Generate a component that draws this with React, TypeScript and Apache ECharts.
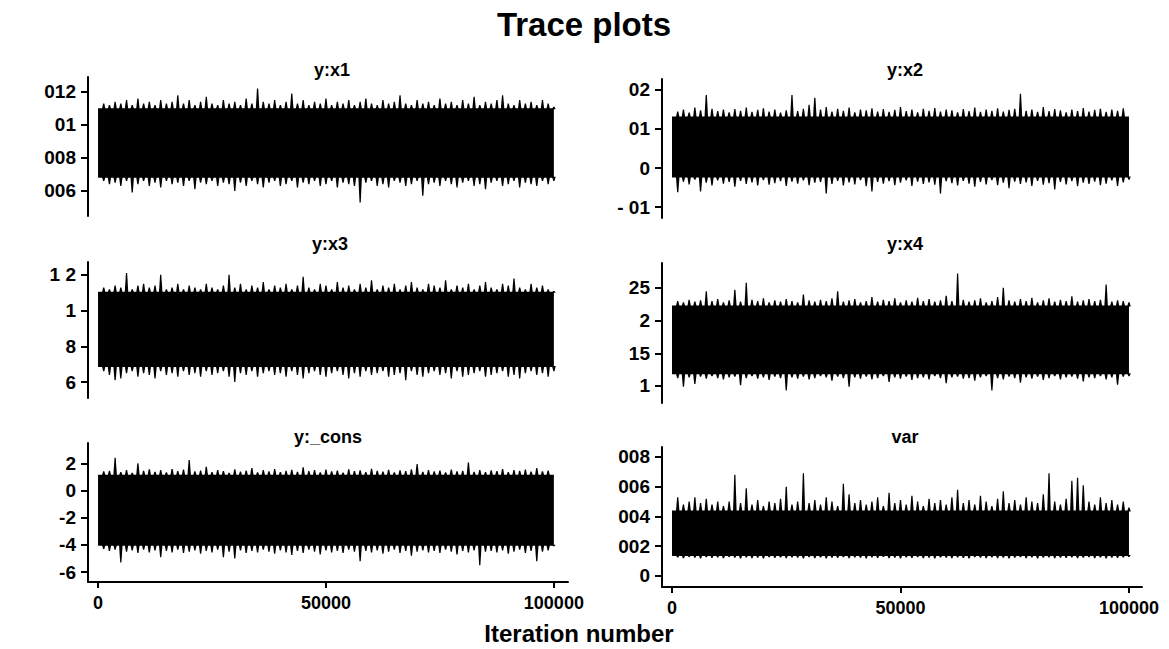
import React, { useEffect, useRef } from "react";
import * as echarts from "echarts";

// ---------- data ----------
const STEP = 1250; // iteration spacing of the sampled envelope points
const X_FIRST = 0;
const X_LAST = 100000;
const xTickValues = [0, 50000, 100000];
const xTickLabels = ["0", "50000", "100000"];
const xAxisTitle = "Iteration number";
const mainTitle = "Trace plots";

const panelTitles = ["y:x1", "y:x2", "y:x3", "y:x4", "y:_cons", "var"];

// y:x1
const x1Hi = [
  0.0108, 0.0113, 0.0112, 0.0114, 0.0113, 0.0115, 0.0112, 0.0116, 0.0113, 0.0114,
  0.0112, 0.0115, 0.0113, 0.0114, 0.0118, 0.0113, 0.0115, 0.0112, 0.0114, 0.0117,
  0.0113, 0.0112, 0.0115, 0.0113, 0.0114, 0.0112, 0.0116, 0.0113, 0.0122, 0.0114,
  0.0113, 0.0115, 0.0112, 0.0114, 0.0119, 0.0113, 0.0115, 0.0112, 0.0114, 0.0113,
  0.0116, 0.0112, 0.0114, 0.0113, 0.0115, 0.0112, 0.0114, 0.0116, 0.0113, 0.0112,
  0.0115, 0.0113, 0.0114, 0.0118, 0.0113, 0.0112, 0.0115, 0.0113, 0.0114, 0.0112,
  0.0116, 0.0113, 0.0114, 0.0112, 0.0115, 0.0113, 0.0117, 0.0112, 0.0114, 0.0113,
  0.0115, 0.0118, 0.0113, 0.0112, 0.0115, 0.0113, 0.0114, 0.0112, 0.0115, 0.0113,
  0.0111,
];
const x1Lo = [
  0.0068, 0.0066, 0.0064, 0.0065, 0.0063, 0.0066, 0.0059, 0.0064, 0.0066, 0.0063,
  0.0065, 0.0062, 0.0066, 0.0064, 0.0065, 0.0063, 0.0066, 0.0061, 0.0065, 0.0064,
  0.0066, 0.0063, 0.0065, 0.0064, 0.006, 0.0065, 0.0063, 0.0066, 0.0064, 0.0062,
  0.0065, 0.0066, 0.0063, 0.0064, 0.0066, 0.0062, 0.0065, 0.0064, 0.0066, 0.0063,
  0.0064, 0.0066, 0.0062, 0.0065, 0.0064, 0.0063, 0.0053, 0.0065, 0.0066, 0.0063,
  0.0064, 0.0062, 0.0066, 0.0065, 0.0063, 0.0064, 0.0066, 0.0057, 0.0064, 0.0065,
  0.0063, 0.0066, 0.0064, 0.0062, 0.0065, 0.0066, 0.0063, 0.0064, 0.0061, 0.0065,
  0.0066, 0.0063, 0.0064, 0.0066, 0.0062, 0.0065, 0.0064, 0.0063, 0.0066, 0.0064,
  0.0066,
];
const x1Core = [0.0068, 0.011];
const x1Ticks = [0.006, 0.008, 0.01, 0.012];
const x1TickLabels = ["006", "008", "01", "012"];

// y:x2
const x2Hi = [
  0.0128, 0.0145, 0.015, 0.0142, 0.0155, 0.0148, 0.0187, 0.0152, 0.0146, 0.015,
  0.0143, 0.0151, 0.0147, 0.0155, 0.0144, 0.0149, 0.0153, 0.0145, 0.015, 0.0142,
  0.0148, 0.0187, 0.0146, 0.0152, 0.0162, 0.018, 0.015, 0.0156, 0.0145, 0.0152,
  0.0147, 0.0155, 0.0143, 0.015, 0.0148, 0.0153, 0.0145, 0.0151, 0.0144, 0.0149,
  0.0156, 0.0146, 0.015, 0.0143, 0.0152, 0.0147, 0.0154, 0.0145, 0.015, 0.0148,
  0.0143, 0.0151, 0.0146, 0.0155, 0.0144, 0.015, 0.0147, 0.0153, 0.0145, 0.0149,
  0.0152, 0.019, 0.0147, 0.015, 0.0144, 0.0156, 0.0146, 0.0151, 0.0148, 0.0143,
  0.015, 0.0146, 0.0154, 0.0145, 0.0149, 0.0152, 0.0144, 0.015, 0.0147, 0.0153,
  0.013,
];
const x2Lo = [
  -0.002, -0.0062, -0.0035, -0.0042, -0.003, -0.006, -0.0038, -0.0045, -0.0032, -0.004,
  -0.0036, -0.0048, -0.0033, -0.0041, -0.0037, -0.0045, -0.0031, -0.0043, -0.0039, -0.0034,
  -0.0046, -0.0035, -0.004, -0.0032, -0.0044, -0.0038, -0.0036, -0.0065, -0.0041, -0.0033,
  -0.0045, -0.0037, -0.0042, -0.0031, -0.0047, -0.006, -0.0036, -0.004, -0.0034, -0.0044,
  -0.0038, -0.0032, -0.0046, -0.0035, -0.0041, -0.0037, -0.0043, -0.0065, -0.0034, -0.0039,
  -0.0045, -0.0033, -0.004, -0.0048, -0.0036, -0.0042, -0.0031, -0.0044, -0.0038, -0.0052,
  -0.0035, -0.0041, -0.0037, -0.0046, -0.0033, -0.0043, -0.0039, -0.0055, -0.0036, -0.0042,
  -0.0034, -0.0047, -0.0038, -0.0041, -0.0035, -0.0044, -0.004, -0.0032, -0.0046, -0.0037,
  -0.003,
];
const x2Core = [-0.0024, 0.0132];
const x2Ticks = [-0.01, 0, 0.01, 0.02];
const x2TickLabels = ["- 01", "0", "01", "02"];

// y:x3
const x3Hi = [
  1.1, 1.13, 1.12, 1.14, 1.13, 1.21, 1.12, 1.14, 1.15, 1.13,
  1.14, 1.2, 1.12, 1.13, 1.15, 1.12, 1.14, 1.13, 1.12, 1.15,
  1.13, 1.12, 1.14, 1.2, 1.13, 1.15, 1.12, 1.14, 1.13, 1.16,
  1.12, 1.14, 1.13, 1.15, 1.12, 1.14, 1.19, 1.13, 1.12, 1.15,
  1.14, 1.12, 1.16, 1.13, 1.14, 1.12, 1.15, 1.13, 1.17, 1.12,
  1.14, 1.13, 1.15, 1.12, 1.14, 1.16, 1.13, 1.12, 1.15, 1.14,
  1.13, 1.17, 1.12, 1.14, 1.13, 1.15, 1.12, 1.14, 1.16, 1.13,
  1.12, 1.15, 1.14, 1.18, 1.13, 1.12, 1.15, 1.13, 1.14, 1.12,
  1.11,
];
const x3Lo = [
  0.7, 0.66, 0.64, 0.61, 0.62, 0.65, 0.66, 0.63, 0.65, 0.64,
  0.62, 0.66, 0.64, 0.65, 0.63, 0.66, 0.64, 0.65, 0.63, 0.66,
  0.64, 0.65, 0.66, 0.63, 0.6, 0.65, 0.64, 0.66, 0.63, 0.65,
  0.66, 0.64, 0.65, 0.63, 0.66, 0.64, 0.62, 0.65, 0.66, 0.64,
  0.63, 0.65, 0.66, 0.64, 0.62, 0.65, 0.63, 0.66, 0.64, 0.65,
  0.66, 0.63, 0.64, 0.65, 0.61, 0.66, 0.64, 0.63, 0.65, 0.66,
  0.64, 0.65, 0.62, 0.66, 0.63, 0.64, 0.65, 0.66, 0.63, 0.64,
  0.65, 0.66, 0.63, 0.64, 0.62, 0.65, 0.66, 0.64, 0.65, 0.63,
  0.66,
];
const x3Core = [0.685, 1.105];
const x3Ticks = [0.6, 0.8, 1, 1.2];
const x3TickLabels = ["6", "8", "1", "1 2"];

// y:x4
const x4Hi = [
  2.22, 2.3, 2.28, 2.32, 2.29, 2.31, 2.45, 2.3, 2.33, 2.28,
  2.31, 2.47, 2.29, 2.58, 2.32, 2.3, 2.34, 2.28, 2.31, 2.29,
  2.33, 2.3, 2.28, 2.4, 2.31, 2.29, 2.32, 2.3, 2.34, 2.45,
  2.29, 2.31, 2.33, 2.28, 2.3, 2.36, 2.29, 2.32, 2.3, 2.34,
  2.28, 2.31, 2.29, 2.35, 2.3, 2.33, 2.29, 2.31, 2.38, 2.3,
  2.72, 2.32, 2.29, 2.31, 2.34, 2.28, 2.3, 2.36, 2.5, 2.31,
  2.29, 2.33, 2.3, 2.35, 2.28, 2.31, 2.34, 2.29, 2.32, 2.3,
  2.37, 2.29, 2.31, 2.33, 2.3, 2.32, 2.55, 2.29, 2.31, 2.3,
  2.28,
];
const x4Lo = [
  1.28, 1.12, 0.99, 1.13, 1.03, 1.14, 1.11, 1.15, 1.12, 1.1,
  1.13, 1.14, 1.01, 1.12, 1.15, 1.11, 1.13, 1.09, 1.14, 1.12,
  0.93, 1.13, 1.11, 1.14, 1.1, 1.12, 1.15, 1.13, 1.08, 1.14,
  1.12, 0.99, 1.13, 1.11, 1.14, 1.1, 1.12, 1.15, 1.06, 1.13,
  1.11, 1.14, 1.09, 1.12, 1.13, 1.1, 1.15, 1.12, 1.04, 1.13,
  1.14, 1.11, 1.12, 1.08, 1.13, 1.15, 0.93, 1.12, 1.1, 1.14,
  1.12, 1.05, 1.13, 1.11, 1.14, 1.09, 1.12, 1.15, 1.1, 1.13,
  1.14, 1.11, 1.07, 1.13, 1.12, 1.15, 1.1, 1.13, 1.02, 1.14,
  1.15,
];
const x4Core = [1.18, 2.23];
const x4Ticks = [1, 1.5, 2, 2.5];
const x4TickLabels = ["1", "15", "2", "25"];

// y:_cons
const consHi = [
  1.0, 1.45, 1.5, 2.45, 1.4, 1.55, 1.35, 2.05, 1.5, 1.6,
  1.42, 1.55, 1.38, 1.62, 1.47, 1.58, 2.3, 1.45, 1.52, 1.8,
  1.4, 1.56, 1.48, 1.35, 1.6, 1.44, 1.52, 1.7, 1.38, 1.55,
  1.46, 1.62, 1.4, 1.5, 1.57, 1.43, 1.75, 1.48, 1.55, 1.39,
  1.58, 1.45, 1.52, 1.36, 1.6, 1.47, 1.54, 1.41, 1.65, 1.5,
  1.44, 1.57, 1.39, 1.53, 1.48, 1.6, 2.0, 1.42, 1.55, 1.46,
  1.52, 1.38, 1.58, 1.45, 1.5, 2.1, 1.43, 1.56, 1.4, 1.54,
  1.47, 1.62, 1.41, 1.55, 1.49, 1.58, 1.44, 1.7, 1.46, 1.52,
  1.1,
];
const consLo = [
  -3.6, -4.3, -4.45, -4.35, -5.3, -4.5, -4.4, -4.6, -4.35, -4.55,
  -4.4, -4.9, -4.45, -4.55, -4.35, -4.6, -4.5, -4.4, -4.65, -4.45,
  -4.55, -4.35, -4.9, -4.5, -5.0, -4.4, -4.6, -4.45, -4.55, -4.35,
  -4.5, -4.65, -4.4, -4.55, -4.75, -4.45, -4.6, -4.35, -4.5, -4.7,
  -4.4, -4.55, -4.45, -4.6, -4.35, -4.5, -5.2, -4.45, -4.55, -4.4,
  -4.65, -4.5, -4.35, -4.6, -4.45, -4.8, -4.5, -4.4, -4.55, -4.45,
  -4.6, -4.35, -4.5, -4.7, -4.45, -4.55, -4.4, -5.5, -4.5, -4.45,
  -4.55, -4.4, -4.65, -4.5, -4.35, -4.6, -4.45, -5.2, -4.5, -4.4,
  -4.1,
];
const consCore = [-4.05, 1.2];
const consTicks = [-6, -4, -2, 0, 2];
const consTickLabels = ["-6", "-4", "-2", "0", "2"];

// var
const varHi = [
  0.0043, 0.0053, 0.0048, 0.005, 0.0053, 0.0049, 0.0052, 0.0048, 0.005, 0.0047,
  0.005, 0.0068, 0.0049, 0.0059, 0.0048, 0.0051, 0.0047, 0.005, 0.0049, 0.0052,
  0.006, 0.0048, 0.005, 0.0069, 0.0049, 0.0051, 0.0048, 0.0053, 0.005, 0.0047,
  0.0062, 0.0055, 0.0049, 0.0051, 0.0048, 0.005, 0.0053, 0.0047, 0.0056, 0.0049,
  0.0051, 0.0048, 0.0054, 0.005, 0.0047, 0.0052, 0.0049, 0.0051, 0.0048, 0.0053,
  0.0058, 0.0049, 0.0051, 0.0048, 0.0054, 0.005, 0.0047, 0.0052, 0.0057, 0.0049,
  0.0051, 0.0048, 0.0053, 0.005, 0.0049, 0.0055, 0.0069, 0.005, 0.0048, 0.0052,
  0.0064, 0.0066, 0.0061, 0.005, 0.0048, 0.0053, 0.0049, 0.0051, 0.0048, 0.005,
  0.0046,
];
const varLo = [
  0.00145, 0.00125, 0.0012, 0.00128, 0.00122, 0.00118, 0.00126, 0.00121, 0.00124, 0.00119,
  0.00127, 0.00122, 0.00117, 0.00125, 0.0012, 0.00123, 0.00118, 0.00126, 0.00121, 0.00124,
  0.00119, 0.00125, 0.00122, 0.00118, 0.00126, 0.0012, 0.00124, 0.00117, 0.00123, 0.00121,
  0.00126, 0.00119, 0.00124, 0.00122, 0.00118, 0.00125, 0.00121, 0.00127, 0.0012, 0.00123,
  0.00118, 0.00124, 0.00121, 0.00126, 0.00119, 0.00123, 0.00117, 0.00125, 0.00122, 0.0012,
  0.00124, 0.00121, 0.00118, 0.00126, 0.00123, 0.00119, 0.00125, 0.0012, 0.00122, 0.00117,
  0.00123, 0.00126, 0.0012, 0.00124, 0.00118, 0.00122, 0.00125, 0.00119, 0.00123, 0.00121,
  0.00125, 0.00119, 0.00122, 0.00126, 0.0012, 0.00124, 0.00118, 0.00123, 0.00121, 0.00125,
  0.00128,
];
const varCore = [0.00135, 0.0044];
const varTicks = [0, 0.002, 0.004, 0.006, 0.008];
const varTickLabels = ["0", "002", "004", "006", "008"];

// ---------- layout (pixels) ----------
const FONT = "'Liberation Sans', Arial, Helvetica, sans-serif";
const layout = [
  { left: 88, top: 77, height: 139, yMin: 0.00448, yMax: 0.0129, xMin: -2200, xMax: 103100, showX: false, tx: 332, ty: 70 },
  { left: 662, top: 79, height: 139, yMin: -0.0128, yMax: 0.0228, xMin: -2190, xMax: 102850, showX: false, tx: 905, ty: 70 },
  { left: 88, top: 262, height: 136, yMin: 0.511, yMax: 1.272, xMin: -2200, xMax: 103100, showX: false, tx: 330, ty: 244 },
  { left: 662, top: 263, height: 140, yMin: 0.74, yMax: 2.88, xMin: -2190, xMax: 102850, showX: false, tx: 905, ty: 244 },
  { left: 88, top: 443, height: 139, yMin: -6.74, yMax: 3.55, xMin: -2200, xMax: 103100, showX: true, tx: 328, ty: 437 },
  { left: 662, top: 447, height: 140, yMin: -0.00074, yMax: 0.00867, xMin: -2190, xMax: 102850, showX: true, tx: 905, ty: 437 },
];
const PANEL_WIDTH = 480;

const panels = [
  { hi: x1Hi, lo: x1Lo, core: x1Core, ticks: x1Ticks, labels: x1TickLabels },
  { hi: x2Hi, lo: x2Lo, core: x2Core, ticks: x2Ticks, labels: x2TickLabels },
  { hi: x3Hi, lo: x3Lo, core: x3Core, ticks: x3Ticks, labels: x3TickLabels },
  { hi: x4Hi, lo: x4Lo, core: x4Core, ticks: x4Ticks, labels: x4TickLabels },
  { hi: consHi, lo: consLo, core: consCore, ticks: consTicks, labels: consTickLabels },
  { hi: varHi, lo: varLo, core: varCore, ticks: varTicks, labels: varTickLabels },
];

function makeRender(core: number[]) {
  return (params: any, api: any) => {
    const x = api.value(0);
    const lo = api.value(1);
    const hi = api.value(2);
    const top = api.coord([x, hi]);
    const bot = api.coord([x, lo]);
    const ct = api.coord([x, core[1]]);
    const cb = api.coord([x, core[0]]);
    const children: any[] = [];
    if (params.dataIndex === 0) {
      // the dense central band of the trace, spanning all iterations
      const pA = api.coord([X_FIRST, core[1]]);
      const pB = api.coord([X_LAST, core[0]]);
      children.push({
        type: "rect",
        shape: { x: pA[0], y: pA[1], width: pB[0] - pA[0], height: pB[1] - pA[1] },
        style: { fill: "#000" },
      });
    }
    if (top[1] < ct[1]) {
      children.push({
        type: "polygon",
        shape: {
          points: [
            [top[0] - 1.8, ct[1] + 1],
            [top[0] - 0.6, top[1]],
            [top[0] + 0.6, top[1]],
            [top[0] + 1.8, ct[1] + 1],
          ],
        },
        style: { fill: "#000" },
      });
    }
    if (bot[1] > cb[1]) {
      children.push({
        type: "polygon",
        shape: {
          points: [
            [bot[0] - 1.8, cb[1] - 1],
            [bot[0] - 0.6, bot[1]],
            [bot[0] + 0.6, bot[1]],
            [bot[0] + 1.8, cb[1] - 1],
          ],
        },
        style: { fill: "#000" },
      });
    }
    return { type: "group", children };
  };
}

function nearestLabel(ticks: number[], labels: string[]) {
  return (v: number) => {
    let best = 0;
    for (let j = 1; j < ticks.length; j++) {
      if (Math.abs(ticks[j] - v) < Math.abs(ticks[best] - v)) best = j;
    }
    return labels[best];
  };
}

export default function App() {
  const ref = useRef<HTMLDivElement>(null);
  useEffect(() => {
    if (!ref.current) return;
    const chart = echarts.init(ref.current, null, { renderer: "svg" });

    const grid = layout.map((l) => ({ left: l.left, top: l.top, width: PANEL_WIDTH, height: l.height, containLabel: false }));
    const xAxis = layout.map((l, i) => ({
      gridIndex: i,
      type: "value",
      min: l.xMin,
      max: l.xMax,
      show: l.showX,
      axisLine: { show: l.showX, onZero: false, lineStyle: { color: "#000", width: 2 } },
      axisTick: { show: l.showX, length: 6, customValues: xTickValues, lineStyle: { color: "#000", width: 2 } },
      axisLabel: {
        show: l.showX,
        customValues: xTickValues,
        formatter: nearestLabel(xTickValues, xTickLabels),
        color: "#000",
        fontSize: 18,
        fontWeight: "bold",
        fontFamily: FONT,
        margin: 12,
      },
      splitLine: { show: false },
    }));
    const yAxis = layout.map((l, i) => ({
      gridIndex: i,
      type: "value",
      min: l.yMin,
      max: l.yMax,
      axisLine: { show: true, onZero: false, lineStyle: { color: "#000", width: 2 } },
      axisTick: { show: true, length: 7, customValues: panels[i].ticks, lineStyle: { color: "#000", width: 2 } },
      axisLabel: {
        customValues: panels[i].ticks,
        formatter: nearestLabel(panels[i].ticks, panels[i].labels),
        color: "#000",
        fontSize: 19,
        fontWeight: "bold",
        fontFamily: FONT,
        margin: 12,
      },
      splitLine: { show: false },
    }));
    const series = panels.map((p, i) => ({
      type: "custom",
      xAxisIndex: i,
      yAxisIndex: i,
      renderItem: makeRender(p.core),
      encode: { x: 0, y: [1, 2] },
      data: p.hi.map((h, k) => [k * STEP, p.lo[k], h]),
      silent: true,
    }));

    const texts: any[] = [
      {
        type: "text",
        x: 584,
        y: 24,
        style: { text: mainTitle, font: `bold 33px ${FONT}`, fill: "#000", textAlign: "center", textVerticalAlign: "middle", align: "center", verticalAlign: "middle" },
      },
      {
        type: "text",
        x: 579,
        y: 633,
        style: { text: xAxisTitle, font: `bold 24px ${FONT}`, fill: "#000", textAlign: "center", textVerticalAlign: "middle", align: "center", verticalAlign: "middle" },
      },
      ...layout.map((l, i) => ({
        type: "text",
        x: l.tx,
        y: l.ty,
        style: { text: panelTitles[i], font: `bold 18px ${FONT}`, fill: "#000", textAlign: "center", textVerticalAlign: "middle", align: "center", verticalAlign: "middle" },
      })),
    ];

    chart.setOption({
      animation: false,
      backgroundColor: "#fff",
      grid,
      xAxis,
      yAxis,
      series,
      graphic: texts,
    });
    return () => chart.dispose();
  }, []);
  return (
    <div
      ref={ref}
      style={{ position: "absolute", left: 0, top: 0, width: 1169, height: 649, background: "#fff" }}
    />
  );
}
